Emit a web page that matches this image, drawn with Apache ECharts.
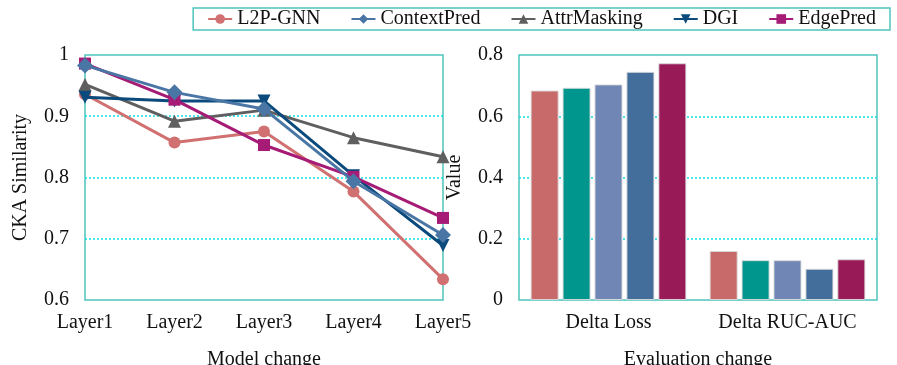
<!DOCTYPE html>
<html><head><meta charset="utf-8">
<script src="https://cdn.jsdelivr.net/npm/echarts@6/dist/echarts.min.js"></script>
<style>html,body{margin:0;padding:0;background:#fff}#c{width:897px;height:365px}</style>
</head><body><div id="c"></div>
<script>
const layers = ['Layer1','Layer2','Layer3','Layer4','Layer5'];
const methods = ['L2P-GNN','ContextPred','AttrMasking','DGI','EdgePred'];
const l2pGnn      = [0.936, 0.857, 0.875, 0.777, 0.634];
const contextPred = [0.983, 0.939, 0.912, 0.794, 0.706];
const attrMasking = [0.952, 0.892, 0.910, 0.865, 0.834];
const dgi         = [0.931, 0.925, 0.925, 0.803, 0.689];
const edgePred    = [0.986, 0.927, 0.853, 0.801, 0.734];
const evalCats = ['Delta Loss','Delta RUC-AUC'];
const deltaL2p  = [0.684, 0.160];
const deltaCtx  = [0.693, 0.130];
const deltaAttr = [0.704, 0.130];
const deltaDgi  = [0.745, 0.102];
const deltaEdge = [0.773, 0.133];

const lineData = [l2pGnn, contextPred, attrMasking, dgi, edgePred];
const barData = [deltaL2p, deltaCtx, deltaAttr, deltaDgi, deltaEdge];
const lineColors = ['#D07070','#4A76A6','#5F5F5F','#0B4A7C','#A51B75'];
const barColors = ['#C96A6A','#00968E','#7087B6','#436E9C','#981A57'];
const symbols = ['circle','diamond','triangle','triangle','rect'];
const symRot = [0,0,0,180,0];
const symSize = [12,16,13,13,12];
const zs = [2,6,3,4,5];
const font = 'Liberation Serif';
const teal = '#4EC3BC';

const axisLabel = {fontFamily: font, fontSize: 20, color: '#111'};
const nameStyle = {fontFamily: font, fontSize: 20, color: '#111'};
const split = {show: true, showMinLine: false, showMaxLine: false, lineStyle: {color: '#10E0E0', type: [2,2], width: 1.5}};

const series = [];
methods.forEach((m, i) => {
  series.push({
    name: m, type: 'line', xAxisIndex: 0, yAxisIndex: 0,
    data: lineData[i], symbol: symbols[i], symbolRotate: symRot[i], symbolSize: symSize[i],
    lineStyle: {width: 3, color: lineColors[i]}, itemStyle: {color: lineColors[i]}, z: zs[i]
  });
});
methods.forEach((m, i) => {
  series.push({
    name: m, type: 'bar', xAxisIndex: 1, yAxisIndex: 1,
    data: barData[i], barGap: '14%', barCategoryGap: '13%',
    itemStyle: {color: barColors[i], borderColor: 'rgba(220,220,220,0.9)', borderWidth: 1}
  });
});

const chart = echarts.init(document.getElementById('c'), null, {renderer: 'canvas'});
chart.setOption({
  animation: false,
  legend: {
    data: methods.map((m,i)=>({name: m})),
    right: 7, top: 8, padding: [1, 14], itemGap: 30, itemWidth: 24, itemHeight: 12,
    borderColor: teal, borderWidth: 1.5,
    textStyle: {fontFamily: font, fontSize: 20, color: '#111'}
  },
  grid: [
    {left: 85, right: 454, top: 55, bottom: 65, show: true, borderColor: teal, borderWidth: 1.5, outerBoundsMode: 'none', containLabel: false},
    {left: 519, right: 20, top: 55, bottom: 65, show: true, borderColor: teal, borderWidth: 1.5, outerBoundsMode: 'none', containLabel: false}
  ],
  xAxis: [
    {type: 'category', gridIndex: 0, data: layers, boundaryGap: false,
     axisLine: {show: false}, axisTick: {show: false}, axisLabel: Object.assign({margin: 13, interval: 0}, axisLabel),
     name: 'Model change', nameLocation: 'middle', nameGap: 50, nameTextStyle: nameStyle},
    {type: 'category', gridIndex: 1, data: evalCats,
     axisLine: {show: false}, axisTick: {show: false}, axisLabel: Object.assign({margin: 13, interval: 0}, axisLabel),
     name: 'Evaluation change', nameLocation: 'middle', nameGap: 50, nameTextStyle: nameStyle}
  ],
  yAxis: [
    {type: 'value', gridIndex: 0, min: 0.6, max: 1, interval: 0.1,
     axisLine: {show: false}, axisTick: {show: false}, axisLabel: Object.assign({margin: 16}, axisLabel),
     splitLine: split,
     name: 'CKA Similarity', nameLocation: 'middle', nameGap: 54, nameTextStyle: nameStyle},
    {type: 'value', gridIndex: 1, min: 0, max: 0.8, interval: 0.2,
     axisLine: {show: false}, axisTick: {show: false}, axisLabel: Object.assign({margin: 16}, axisLabel),
     splitLine: split,
     name: 'Value', nameLocation: 'middle', nameGap: 54, nameTextStyle: nameStyle}
  ],
  series: series
});
</script></body></html>
